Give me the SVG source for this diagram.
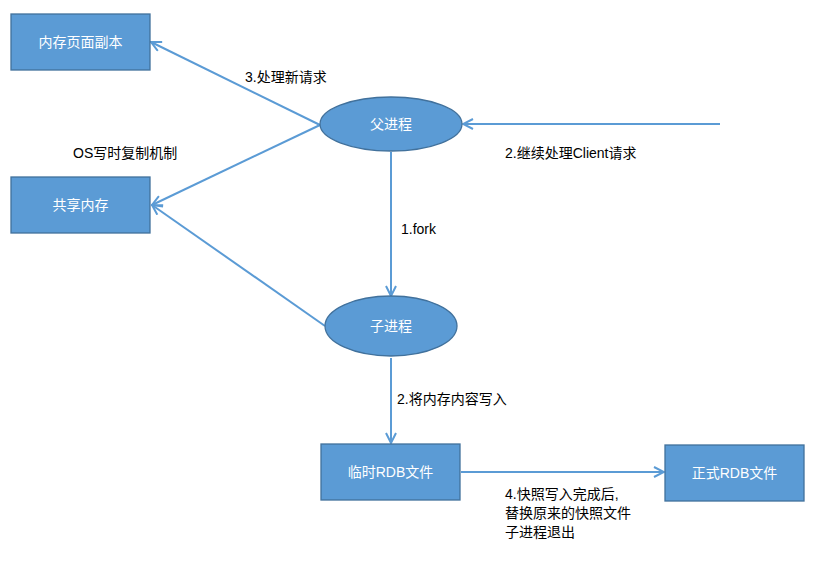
<svg xmlns="http://www.w3.org/2000/svg" width="836" height="564" viewBox="0 0 836 564">
<style>
.box{fill:#5B9BD5;stroke:#41719C;stroke-width:1.3}
.nt{fill:#fff;font-family:"Liberation Sans","Noto Sans CJK SC",sans-serif;font-size:14px;text-anchor:middle;dominant-baseline:central}
.lt{fill:#000;font-family:"Liberation Sans","Noto Sans CJK SC",sans-serif;font-size:14px}
.ln{stroke:#5B9BD5;stroke-width:2;fill:none;marker-end:url(#ah)}
</style>
<defs>
<marker id="ah" viewBox="0 0 12 12" refX="11" refY="6" markerWidth="12" markerHeight="12" markerUnits="userSpaceOnUse" orient="auto">
<path d="M1,1 L11,6 L1,11" fill="none" stroke="#5B9BD5" stroke-width="2"/>
</marker>
</defs>
<rect width="836" height="564" fill="#fff"/>
<g id="connectors">
<line class="ln" x1="320" y1="125" x2="151" y2="42"/>
<line class="ln" x1="320" y1="125" x2="152" y2="205"/>
<line class="ln" x1="325" y1="326" x2="152" y2="205"/>
<line class="ln" x1="720" y1="124" x2="463" y2="124"/>
<line class="ln" x1="391" y1="152" x2="391" y2="296"/>
<line class="ln" x1="391" y1="358" x2="391" y2="443"/>
<line class="ln" x1="461" y1="472" x2="664" y2="472"/>
</g>
<g id="mem-copy"><rect class="box" x="11" y="14" width="139" height="56"/><text class="nt" x="80.5" y="42">内存页面副本</text></g>
<g id="shared-mem"><rect class="box" x="11" y="177" width="139" height="56"/><text class="nt" x="80.5" y="205">共享内存</text></g>
<g id="parent"><ellipse class="box" cx="391" cy="124" rx="71" ry="27"/><text class="nt" x="391" y="124">父进程</text></g>
<g id="child"><ellipse class="box" cx="391" cy="326" rx="66" ry="30"/><text class="nt" x="391" y="326">子进程</text></g>
<g id="temp-rdb"><rect class="box" x="321" y="444" width="139" height="56"/><text class="nt" x="390.5" y="472">临时RDB文件</text></g>
<g id="final-rdb"><rect class="box" x="665" y="445" width="139" height="56"/><text class="nt" x="734.5" y="473">正式RDB文件</text></g>
<g id="labels">
<text class="lt" x="245" y="82">3.处理新请求</text>
<text class="lt" x="73" y="158">OS写时复制机制</text>
<text class="lt" x="505" y="158">2.继续处理Client请求</text>
<text class="lt" x="401" y="234">1.fork</text>
<text class="lt" x="397" y="404">2.将内存内容写入</text>
<text class="lt" x="505" y="499">4.快照写入完成后,</text>
<text class="lt" x="505" y="518">替换原来的快照文件</text>
<text class="lt" x="505" y="537">子进程退出</text>
</g>
</svg>
